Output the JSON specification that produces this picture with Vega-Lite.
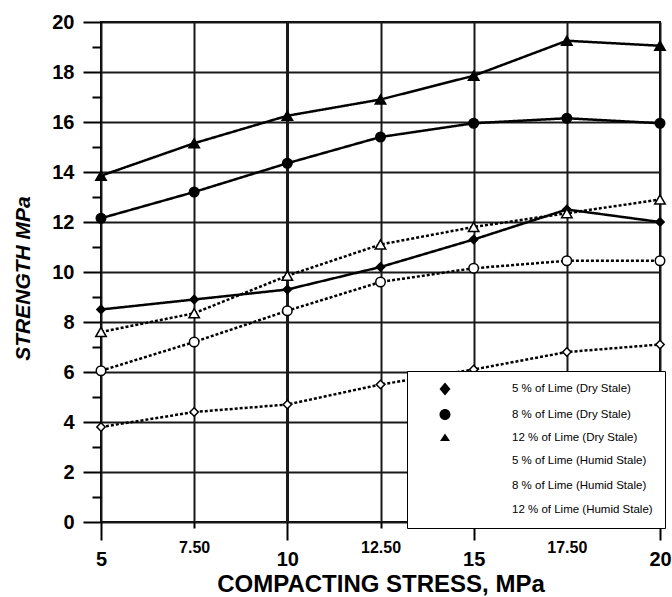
{
  "$schema": "https://vega.github.io/schema/vega-lite/v6.json",
  "width": 559,
  "height": 500,
  "autosize": {"type": "none"},
  "padding": {"left": 101, "top": 22, "right": 12, "bottom": 75},
  "background": "white",
  "config": {
    "font": "Liberation Sans",
    "view": {"stroke": "black", "strokeWidth": 2}
  },
  "data": {
    "values": [
      {"stress": 5, "strength": 8.5, "series": "5 % of Lime (Dry Stale)", "state": "Dry", "lime": 5},
      {"stress": 7.5, "strength": 8.9, "series": "5 % of Lime (Dry Stale)", "state": "Dry", "lime": 5},
      {"stress": 10, "strength": 9.3, "series": "5 % of Lime (Dry Stale)", "state": "Dry", "lime": 5},
      {"stress": 12.5, "strength": 10.2, "series": "5 % of Lime (Dry Stale)", "state": "Dry", "lime": 5},
      {"stress": 15, "strength": 11.3, "series": "5 % of Lime (Dry Stale)", "state": "Dry", "lime": 5},
      {"stress": 17.5, "strength": 12.5, "series": "5 % of Lime (Dry Stale)", "state": "Dry", "lime": 5},
      {"stress": 20, "strength": 12.0, "series": "5 % of Lime (Dry Stale)", "state": "Dry", "lime": 5},
      {"stress": 5, "strength": 12.15, "series": "8 % of Lime (Dry Stale)", "state": "Dry", "lime": 8},
      {"stress": 7.5, "strength": 13.2, "series": "8 % of Lime (Dry Stale)", "state": "Dry", "lime": 8},
      {"stress": 10, "strength": 14.35, "series": "8 % of Lime (Dry Stale)", "state": "Dry", "lime": 8},
      {"stress": 12.5, "strength": 15.4, "series": "8 % of Lime (Dry Stale)", "state": "Dry", "lime": 8},
      {"stress": 15, "strength": 15.95, "series": "8 % of Lime (Dry Stale)", "state": "Dry", "lime": 8},
      {"stress": 17.5, "strength": 16.15, "series": "8 % of Lime (Dry Stale)", "state": "Dry", "lime": 8},
      {"stress": 20, "strength": 15.95, "series": "8 % of Lime (Dry Stale)", "state": "Dry", "lime": 8},
      {"stress": 5, "strength": 13.85, "series": "12 % of Lime (Dry Stale)", "state": "Dry", "lime": 12},
      {"stress": 7.5, "strength": 15.15, "series": "12 % of Lime (Dry Stale)", "state": "Dry", "lime": 12},
      {"stress": 10, "strength": 16.25, "series": "12 % of Lime (Dry Stale)", "state": "Dry", "lime": 12},
      {"stress": 12.5, "strength": 16.9, "series": "12 % of Lime (Dry Stale)", "state": "Dry", "lime": 12},
      {"stress": 15, "strength": 17.85, "series": "12 % of Lime (Dry Stale)", "state": "Dry", "lime": 12},
      {"stress": 17.5, "strength": 19.25, "series": "12 % of Lime (Dry Stale)", "state": "Dry", "lime": 12},
      {"stress": 20, "strength": 19.05, "series": "12 % of Lime (Dry Stale)", "state": "Dry", "lime": 12},
      {"stress": 5, "strength": 3.8, "series": "5 % of Lime (Humid Stale)", "state": "Humid", "lime": 5},
      {"stress": 7.5, "strength": 4.4, "series": "5 % of Lime (Humid Stale)", "state": "Humid", "lime": 5},
      {"stress": 10, "strength": 4.7, "series": "5 % of Lime (Humid Stale)", "state": "Humid", "lime": 5},
      {"stress": 12.5, "strength": 5.5, "series": "5 % of Lime (Humid Stale)", "state": "Humid", "lime": 5},
      {"stress": 15, "strength": 6.1, "series": "5 % of Lime (Humid Stale)", "state": "Humid", "lime": 5},
      {"stress": 17.5, "strength": 6.8, "series": "5 % of Lime (Humid Stale)", "state": "Humid", "lime": 5},
      {"stress": 20, "strength": 7.1, "series": "5 % of Lime (Humid Stale)", "state": "Humid", "lime": 5},
      {"stress": 5, "strength": 6.05, "series": "8 % of Lime (Humid Stale)", "state": "Humid", "lime": 8},
      {"stress": 7.5, "strength": 7.2, "series": "8 % of Lime (Humid Stale)", "state": "Humid", "lime": 8},
      {"stress": 10, "strength": 8.45, "series": "8 % of Lime (Humid Stale)", "state": "Humid", "lime": 8},
      {"stress": 12.5, "strength": 9.6, "series": "8 % of Lime (Humid Stale)", "state": "Humid", "lime": 8},
      {"stress": 15, "strength": 10.15, "series": "8 % of Lime (Humid Stale)", "state": "Humid", "lime": 8},
      {"stress": 17.5, "strength": 10.45, "series": "8 % of Lime (Humid Stale)", "state": "Humid", "lime": 8},
      {"stress": 20, "strength": 10.45, "series": "8 % of Lime (Humid Stale)", "state": "Humid", "lime": 8},
      {"stress": 5, "strength": 7.6, "series": "12 % of Lime (Humid Stale)", "state": "Humid", "lime": 12},
      {"stress": 7.5, "strength": 8.35, "series": "12 % of Lime (Humid Stale)", "state": "Humid", "lime": 12},
      {"stress": 10, "strength": 9.85, "series": "12 % of Lime (Humid Stale)", "state": "Humid", "lime": 12},
      {"stress": 12.5, "strength": 11.1, "series": "12 % of Lime (Humid Stale)", "state": "Humid", "lime": 12},
      {"stress": 15, "strength": 11.8, "series": "12 % of Lime (Humid Stale)", "state": "Humid", "lime": 12},
      {"stress": 17.5, "strength": 12.35, "series": "12 % of Lime (Humid Stale)", "state": "Humid", "lime": 12},
      {"stress": 20, "strength": 12.9, "series": "12 % of Lime (Humid Stale)", "state": "Humid", "lime": 12}
    ]
  },
  "encoding": {
    "x": {
      "field": "stress",
      "type": "quantitative",
      "scale": {"domain": [5, 20], "nice": false, "zero": false},
      "axis": {
        "title": "COMPACTING STRESS, MPa",
        "titleFontSize": 24,
        "titleFontWeight": "bold",
        "titleColor": "black",
        "titlePadding": 3,
        "values": [5, 7.5, 10, 12.5, 15, 17.5, 20],
        "labelExpr": "datum.value % 5 == 0 ? format(datum.value, 'd') : format(datum.value, '.2f')",
        "labelColor": "black",
        "labelFontWeight": "bold",
        "labelFontSize": {"condition": {"test": "datum.value % 5 == 0", "value": 20}, "value": 16},
        "labelPadding": {"condition": {"test": "datum.value % 5 == 0", "value": 9}, "value": 11},
        "labelFlush": false,
        "labelOverlap": false,
        "domain": false,
        "tickColor": "black",
        "tickWidth": 2,
        "tickSize": {"condition": {"test": "datum.value % 5 == 0", "value": 18}, "value": 6},
        "grid": true,
        "gridColor": "#1a1a1a",
        "gridOpacity": 1,
        "gridWidth": {"condition": {"test": "datum.value == 10", "value": 3}, "value": 2}
      }
    },
    "y": {
      "field": "strength",
      "type": "quantitative",
      "scale": {"domain": [0, 20], "nice": false},
      "axis": {
        "title": "STRENGTH MPa",
        "titleFontSize": 21,
        "titleFontWeight": "bold",
        "titleFontStyle": "italic",
        "titleColor": "black",
        "titlePadding": 18,
        "titleY": 256,
        "values": [0,1,2,3,4,5,6,7,8,9,10,11,12,13,14,15,16,17,18,19,20],
        "labelExpr": "datum.value % 2 == 0 ? datum.label : ''",
        "labelColor": "black",
        "labelFontSize": 20,
        "labelFontWeight": "bold",
        "labelPadding": 9,
        "labelOverlap": false,
        "labelFlush": false,
        "domain": false,
        "tickColor": "black",
        "tickWidth": 2,
        "tickSize": {"condition": {"test": "datum.value % 2 == 0", "value": 18}, "value": 9},
        "grid": true,
        "gridColor": "#1a1a1a",
        "gridWidth": 2,
        "gridOpacity": {"condition": {"test": "datum.value % 2 == 0", "value": 1}, "value": 0}
      }
    }
  },
  "resolve": {"scale": {"shape": "independent", "fill": "independent"}},
  "layer": [
    {
      "mark": {"type": "line", "color": "black", "strokeWidth": 2.5},
      "encoding": {
        "detail": {"field": "series", "type": "nominal"},
        "strokeDash": {
          "field": "state",
          "type": "nominal",
          "scale": {"domain": ["Dry", "Humid"], "range": [[1, 0], [3, 2]]},
          "legend": null
        }
      }
    },
    {
      "mark": {"type": "point", "filled": true, "stroke": "black", "strokeWidth": 1.5, "opacity": 1},
      "encoding": {
        "fill": {
          "field": "state",
          "type": "nominal",
          "scale": {"domain": ["Dry", "Humid"], "range": ["black", "white"]},
          "legend": null
        },
        "size": {
          "field": "lime",
          "type": "ordinal",
          "scale": {"domain": [5, 8, 12], "range": [70, 110, 50]},
          "legend": null
        },
        "shape": {
          "field": "lime",
          "type": "ordinal",
          "scale": {"domain": [5, 8, 12], "range": ["diamond", "circle", "triangle-up"]},
          "legend": null
        }
      }
    },
    {
      "transform": [{"filter": "false"}],
      "mark": {"type": "point", "filled": true, "stroke": "black", "strokeWidth": 1.5, "opacity": 1},
      "encoding": {
        "fill": {
          "field": "series",
          "type": "nominal",
          "scale": {
            "domain": ["5 % of Lime (Dry Stale)", "8 % of Lime (Dry Stale)", "12 % of Lime (Dry Stale)", "5 % of Lime (Humid Stale)", "8 % of Lime (Humid Stale)", "12 % of Lime (Humid Stale)"],
            "range": ["black", "black", "black", "white", "white", "white"]
          }
        },
        "stroke": {
          "field": "series",
          "type": "nominal",
          "scale": {
            "domain": ["5 % of Lime (Dry Stale)", "8 % of Lime (Dry Stale)", "12 % of Lime (Dry Stale)", "5 % of Lime (Humid Stale)", "8 % of Lime (Humid Stale)", "12 % of Lime (Humid Stale)"],
            "range": ["black", "black", "black", "black", "black", "black"]
          }
        },
        "shape": {
          "field": "series",
          "type": "nominal",
          "scale": {
            "domain": ["5 % of Lime (Dry Stale)", "8 % of Lime (Dry Stale)", "12 % of Lime (Dry Stale)", "5 % of Lime (Humid Stale)", "8 % of Lime (Humid Stale)", "12 % of Lime (Humid Stale)"],
            "range": [
              "M-4.7,0H4.7M0,-1.3L1.1,0L0,1.3L-1.1,0Z",
              "M-4.7,0H4.7M1.1,0A1.1,1.1 0 1,1 -1.1,0A1.1,1.1 0 1,1 1.1,0Z",
              "M-4.7,0.6H4.7M0,-0.9L1,0.6L-1,0.6Z",
              "M-4.7,0H-4.2M-3.85,0H-3.35M-3,0H-2.5M-2.15,0H-1.65M1.65,0H2.15M2.5,0H3M3.35,0H3.85M4.2,0H4.7M0,-1.3L1.1,0L0,1.3L-1.1,0Z",
              "M-4.7,0H-4.2M-3.85,0H-3.35M-3,0H-2.5M-2.15,0H-1.65M1.65,0H2.15M2.5,0H3M3.35,0H3.85M4.2,0H4.7M1.2,0A1.2,1.1 0 1,1 -1.2,0A1.2,1.1 0 1,1 1.2,0Z",
              "M-4.7,0.6H-4.2M-3.85,0.6H-3.35M-3,0.6H-2.5M-2.15,0.6H-1.65M1.65,0.6H2.15M2.5,0.6H3M3.35,0.6H3.85M4.2,0.6H4.7M0,-0.9L1,0.6L-1,0.6Z"
            ]
          },
          "legend": {
            "title": null,
            "orient": "none",
            "legendX": 306,
            "legendY": 349,
            "fillColor": "white",
            "strokeColor": "black",
            "padding": 12,
            "rowPadding": 6.5,
            "symbolSize": 100,
            "symbolStrokeColor": "black",
            "symbolStrokeWidth": 1.5,
            "symbolOpacity": 1,
            "symbolOffset": 20,
            "labelOffset": 61,
            "labelFontSize": 11.5,
            "labelColor": "black",
            "labelLimit": 250
          }
        }
      }
    }
  ]
}
